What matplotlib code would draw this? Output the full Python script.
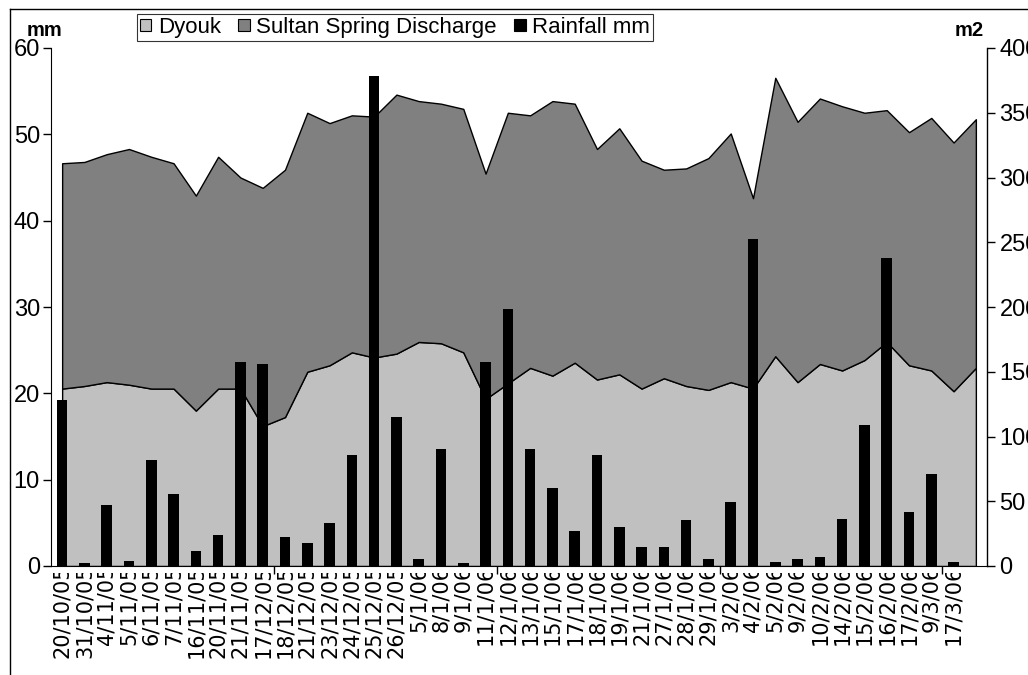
import matplotlib
matplotlib.use("Agg")
import matplotlib.pyplot as plt
import numpy as np
from matplotlib.transforms import Bbox, TransformedBbox
from matplotlib.patches import Patch
from matplotlib.lines import Line2D

plt.rcParams['font.family'] = ['Liberation Sans', 'DejaVu Sans']

# ---------------- data ----------------
dates = ["20/10/05", "31/10/05", "4/11/05", "5/11/05", "6/11/05", "7/11/05",
         "16/11/05", "20/11/05", "21/11/05", "17/12/05", "18/12/05", "21/12/05",
         "23/12/05", "24/12/05", "25/12/05", "26/12/05", "5/1/06", "8/1/06",
         "9/1/06", "11/1/06", "12/1/06", "13/1/06", "15/1/06", "17/1/06",
         "18/1/06", "19/1/06", "21/1/06", "27/1/06", "28/1/06", "29/1/06",
         "3/2/06", "4/2/06", "5/2/06", "9/2/06", "10/2/06", "14/2/06",
         "15/2/06", "16/2/06", "17/2/06", "9/3/06", "17/3/06", ""]

rainfall_mm = [19.2, 0.3, 7.1, 0.6, 12.3, 8.3, 1.7, 3.6, 23.6, 23.4, 3.4, 2.7,
               5.0, 12.8, 56.7, 17.3, 0.8, 13.5, 0.3, 23.6, 29.8, 13.5, 9.0, 4.0,
               12.8, 4.5, 2.2, 2.2, 5.3, 0.8, 7.4, 37.9, 0.5, 0.8, 1.0, 5.5,
               16.3, 35.7, 6.2, 10.7, 0.5]

dyouk = [137, 139, 142, 140, 137, 137, 120, 137, 137, 108, 115, 150, 155, 165,
         161, 164, 173, 172, 165, 129, 141, 153, 147, 157, 144, 148, 137, 145,
         139, 136, 142, 137, 162, 142, 156, 151, 159, 173, 155, 151, 135, 153]

sultan = [174, 173, 176, 182, 179, 174, 166, 179, 163, 184, 191, 200, 187, 183,
          186, 200, 186, 185, 188, 174, 209, 195, 212, 200, 178, 190, 176, 161,
          168, 179, 192, 147, 215, 201, 205, 204, 191, 179, 180, 195, 192, 192]

left_ticks = [0, 10, 20, 30, 40, 50, 60]
right_ticks = [0, 50, 100, 150, 200, 250, 300, 350, 400]

# ---------------- figure ----------------
W, H = 1028, 675
fig = plt.figure(figsize=(W / 100, H / 100), dpi=100)
rect = [51 / W, (H - 566) / H, 936 / W, 518 / H]

axA = fig.add_axes(rect, zorder=1)          # areas, right axis
axB = fig.add_axes(rect, zorder=2)          # bars, left axis
axB.patch.set_alpha(0)

xa = np.arange(len(dyouk))
xb = np.arange(len(rainfall_mm))

axA.stackplot(xa, dyouk, sultan, colors=['#C0C0C0', '#808080'],
              edgecolor='black', linewidth=1.0)
axA.set_ylim(0, 400)
axA.set_xlim(-0.5, len(dates) - 0.5)
axA.yaxis.tick_right()
axA.set_yticks(right_ticks)
axA.set_xticks([])
for s in ['left', 'top', 'bottom']:
    axA.spines[s].set_visible(False)
axA.spines['right'].set_linewidth(1.0)
axA.tick_params(axis='y', direction='out', length=6, width=1, labelsize=17,
                pad=3)

axB.bar(xb, rainfall_mm, width=0.47, color='black')
axB.set_ylim(0, 60)
axB.set_xlim(-0.5, len(dates) - 0.5)
axB.set_yticks(left_ticks)
for s in ['right', 'top']:
    axB.spines[s].set_visible(False)
axB.tick_params(axis='y', direction='out', length=6, width=1, labelsize=17,
                pad=2)
axB.set_xticks(np.arange(len(dates)))
axB.set_xticklabels(dates, rotation=90, fontsize=15, family='DejaVu Sans')
axB.tick_params(axis='x', which='major', length=0, pad=-1)
axB.set_xticks([9.5, 19.5, 29.5, 39.5], minor=True)
axB.tick_params(axis='x', which='minor', direction='out', length=6, width=1)

# clip x tick labels just below the axis (as in the original)
clip = TransformedBbox(Bbox.from_extents(0, 0, 1, (H - 573) / H), fig.transFigure)
for lab in axB.get_xticklabels():
    lab.set_clip_on(True)
    lab.set_clip_box(clip)

# axis unit labels
fig.text(27 / W, 1 - 31 / H, 'mm', fontsize=14.5, fontweight='bold',
         ha='left', va='center')
fig.text(955 / W, 1 - 31 / H, 'm2', fontsize=14.5, fontweight='bold',
         ha='left', va='center')

# legend
handles = [Patch(facecolor='#C0C0C0', edgecolor='black', linewidth=0.8),
           Patch(facecolor='#808080', edgecolor='black', linewidth=0.8),
           Patch(facecolor='black', edgecolor='black', linewidth=0.8)]
leg = fig.legend(handles, ['Dyouk', 'Sultan Spring Discharge', 'Rainfall mm'],
                 ncol=3, loc='center', bbox_to_anchor=(395 / W, 1 - 27.5 / H),
                 frameon=True, fancybox=False, shadow=False, fontsize=16,
                 handlelength=0.5, handleheight=0.5, handletextpad=0.3,
                 columnspacing=0.8, borderpad=0.15)
leg.get_frame().set_edgecolor('black')
leg.get_frame().set_linewidth(0.8)

# outer chart frame
fig.add_artist(Line2D([10 / W, 1], [1 - 9 / H, 1 - 9 / H], color='black',
                      linewidth=1, transform=fig.transFigure))
fig.add_artist(Line2D([10 / W, 10 / W], [0, 1 - 9 / H], color='black',
                      linewidth=1, transform=fig.transFigure))

fig.savefig('out.png', dpi=100)
